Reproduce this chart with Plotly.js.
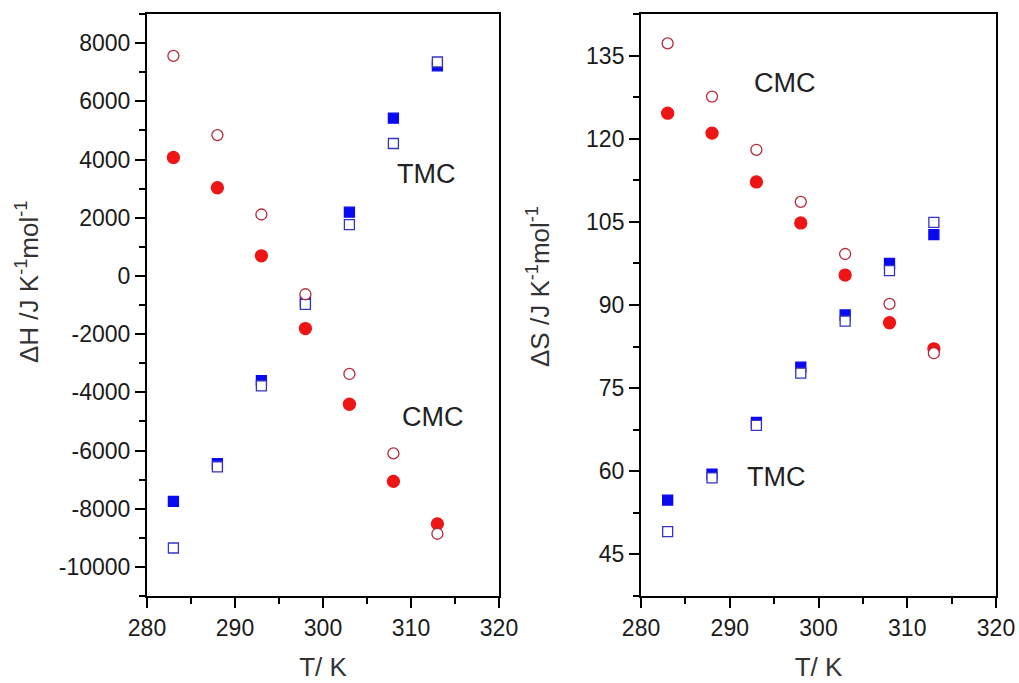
<!DOCTYPE html>
<html>
<head>
<meta charset="utf-8">
<script src="https://cdn.plot.ly/plotly-3.0.1.min.js"></script>
<style>html,body{margin:0;padding:0;background:#fff;}#chart{width:1019px;height:683px;}</style>
</head>
<body>
<div id="chart"></div>
<script>
// Temperatures (K)
const T = [283, 288, 293, 298, 303, 308, 313];

// Left panel: ΔH (J K^-1 mol^-1)
const dH_CMC_open   = [7560, 4840, 2110, -630, -3370, -6100, -8860];
const dH_CMC_filled = [4070, 3030, 690, -1810, -4410, -7060, -8520];
const dH_TMC_filled = [-7750, -6450, -3600, -900, 2190, 5420, 7220];
const dH_TMC_open   = [-9350, -6560, -3780, -980, 1760, 4550, 7350];

// Right panel: ΔS (J K^-1 mol^-1)
const dS_CMC_open   = [137.2, 127.6, 118.0, 108.6, 99.2, 90.2, 81.3];
const dS_CMC_filled = [124.6, 121.0, 112.2, 104.8, 95.4, 86.8, 82.1];
const dS_TMC_filled = [54.8, 59.5, 68.8, 78.8, 88.2, 97.5, 102.7];
const dS_TMC_open   = [49.1, 58.8, 68.3, 77.7, 87.1, 96.2, 104.9];

const xTicks = [280, 290, 300, 310, 320];
const yTicksH = [-10000, -8000, -6000, -4000, -2000, 0, 2000, 4000, 6000, 8000];
const yTickTextH = ['-10000', '-8000', '-6000', '-4000', '-2000', '0', '2000', '4000', '6000', '8000'];
const yTicksS = [45, 60, 75, 90, 105, 120, 135];

const RED = '#ee1515', DARKRED = '#b8283a', BLUE = '#0a0af0', NAVY = '#3535c0';

function mk(x, y, xa, ya, sym, fill, line, size) {
  return {x: x, y: y, xaxis: xa, yaxis: ya, type: 'scatter', mode: 'markers',
    marker: {symbol: sym, size: size, color: fill, line: {color: line, width: 1.3}},
    hoverinfo: 'x+y', showlegend: false};
}

const data = [
  mk(T, dH_TMC_filled, 'x', 'y', 'square', BLUE, BLUE, 10),
  mk(T, dH_TMC_open, 'x', 'y', 'square', '#ffffff', NAVY, 10),
  mk(T, dH_CMC_filled, 'x', 'y', 'circle', RED, RED, 12),
  mk(T, dH_CMC_open, 'x', 'y', 'circle', '#ffffff', DARKRED, 11),
  mk(T, dS_TMC_filled, 'x2', 'y2', 'square', BLUE, BLUE, 10),
  mk(T, dS_TMC_open, 'x2', 'y2', 'square', '#ffffff', NAVY, 10),
  mk(T, dS_CMC_filled, 'x2', 'y2', 'circle', RED, RED, 12),
  mk(T, dS_CMC_open, 'x2', 'y2', 'circle', '#ffffff', DARKRED, 11)
];

const FONT = 'Arial, "Liberation Sans", sans-serif';
const tickFont = {family: FONT, size: 23, color: '#1a1a1a'};

function xax(domain, anchor) {
  return {domain: domain, anchor: anchor, range: [280, 320], tickvals: xTicks,
    ticktext: xTicks.map(String),
    ticks: 'outside', ticklen: 10, tickwidth: 2, tickcolor: '#000',
    showline: true, linewidth: 2, linecolor: '#000', mirror: true,
    showgrid: false, zeroline: false, tickfont: tickFont,
    minor: {dtick: 5, tick0: 280, ticks: 'outside', ticklen: 6, tickwidth: 2, tickcolor: '#000', showgrid: false},
    title: {text: 'T/ K', font: {family: FONT, size: 26, color: '#333'}, standoff: 18}};
}
function yax(range, tv, tt, dt, t0, anchor) {
  return {anchor: anchor, range: range, tickvals: tv, ticktext: tt,
    ticks: 'outside', ticklen: 10, tickwidth: 2, tickcolor: '#000',
    showline: true, linewidth: 2, linecolor: '#000', mirror: true,
    showgrid: false, zeroline: false, tickfont: tickFont,
    minor: {dtick: dt, tick0: t0, ticks: 'outside', ticklen: 6, tickwidth: 2, tickcolor: '#000', showgrid: false}};
}

const yTitleFont = {family: FONT, size: 26, color: '#333'};

const layout = {
  width: 1019, height: 683,
  margin: {l: 147, r: 23, t: 14, b: 87},
  paper_bgcolor: '#fff', plot_bgcolor: '#fff',
  showlegend: false,
  xaxis: xax([0, 0.4146], 'y'),
  yaxis: yax([-11000, 9000], yTicksH, yTickTextH, 1000, -11000, 'x'),
  xaxis2: xax([0.5819, 1], 'y2'),
  yaxis2: yax([37.5, 142.5], yTicksS, yTicksS.map(String), 7.5, 37.5, 'x2'),
  annotations: [
    {xref: 'x', yref: 'y', x: 311.7, y: 3490, text: 'TMC', showarrow: false, font: {family: FONT, size: 27, color: '#222'}},
    {xref: 'x', yref: 'y', x: 312.5, y: -4840, text: 'CMC', showarrow: false, font: {family: FONT, size: 27, color: '#222'}},
    {xref: 'x2', yref: 'y2', x: 296.2, y: 130.0, text: 'CMC', showarrow: false, font: {family: FONT, size: 27, color: '#222'}},
    {xref: 'x2', yref: 'y2', x: 295.2, y: 59.0, text: 'TMC', showarrow: false, font: {family: FONT, size: 27, color: '#222'}},
    {xref: 'paper', yref: 'paper', x: (27 - 147) / 849, y: (596 - 282) / 582, xanchor: 'center', yanchor: 'middle',
     text: '\u0394H /J K<sup>-1</sup>mol<sup>-1</sup>', textangle: -90, showarrow: false, font: yTitleFont},
    {xref: 'paper', yref: 'paper', x: (538 - 147) / 849, y: (596 - 287) / 582, xanchor: 'center', yanchor: 'middle',
     text: '\u0394S /J K<sup>-1</sup>mol<sup>-1</sup>', textangle: -90, showarrow: false, font: yTitleFont}
  ]
};

Plotly.newPlot('chart', data, layout, {staticPlot: true, displayModeBar: false});
</script>
</body>
</html>
